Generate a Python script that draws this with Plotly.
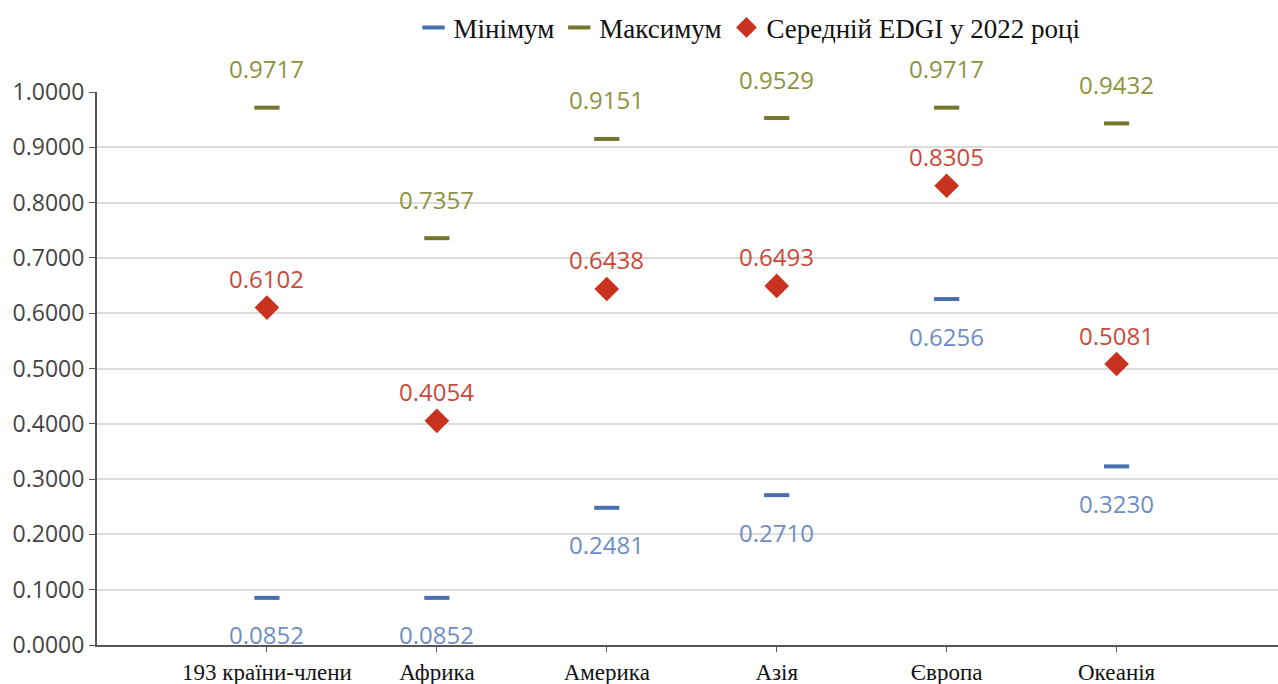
import plotly.graph_objects as go

categories = ["193 країни-члени", "Африка", "Америка", "Азія", "Європа", "Океанія"]
minimum = [0.0852, 0.0852, 0.2481, 0.2710, 0.6256, 0.3230]
maximum = [0.9717, 0.7357, 0.9151, 0.9529, 0.9717, 0.9432]
mean_2022 = [0.6102, 0.4054, 0.6438, 0.6493, 0.8305, 0.5081]
y_ticks = [0.0, 0.1, 0.2, 0.3, 0.4, 0.5, 0.6, 0.7, 0.8, 0.9, 1.0]

x_pos = list(range(len(categories)))
label_font = "Open Sans, Noto Sans, sans-serif"
serif_font = "Liberation Serif, Times New Roman, serif"

series = [
    # name, values, marker, label colour, vertical label offset (px)
    ("Мінімум", minimum,
     dict(symbol="line-ew", size=18, line=dict(width=4, color="#4a6fae")), "#6f8dc2", -37),
    ("Максимум", maximum,
     dict(symbol="line-ew", size=18, line=dict(width=4, color="#74762e")), "#8e9240", 39),
    ("Середній EDGI у 2022 році", mean_2022,
     dict(symbol="diamond", size=19, color="#c8321f"), "#c94a3a", 29),
]

fig = go.Figure()
annotations = []
for name, values, marker, text_color, shift in series:
    fig.add_trace(go.Scatter(
        x=x_pos, y=values, name=name, mode="markers",
        marker=marker, cliponaxis=False,
    ))
    for xi, v in zip(x_pos, values):
        annotations.append(dict(
            x=xi, y=v, xref="x", yref="y", text=f"{v:.4f}", showarrow=False,
            yshift=shift, font=dict(family=label_font, size=24, color=text_color),
        ))

fig.update_layout(
    width=1278, height=684,
    margin=dict(l=97, r=0, t=92, b=39, autoexpand=False),
    paper_bgcolor="white", plot_bgcolor="white",
    showlegend=True,
    annotations=annotations,
    legend=dict(
        orientation="h", x=0.268, xanchor="left", y=0.995, yanchor="top",
        yref="container", bgcolor="rgba(0,0,0,0)",
        font=dict(family=serif_font, size=27, color="#111"),
        itemwidth=30,
    ),
    xaxis=dict(
        range=[-1, 5.95], tickvals=x_pos, ticktext=categories, automargin=False,
        showgrid=False, zeroline=False,
        showline=True, linecolor="#555", linewidth=2,
        ticks="outside", ticklen=5, tickcolor="#555",
        tickfont=dict(family=serif_font, size=23, color="#111"),
    ),
    yaxis=dict(
        range=[0, 1.0], tickvals=y_ticks, ticktext=[f"{v:.4f}" for v in y_ticks],
        automargin=False,
        showgrid=True, gridcolor="#dcdcdc", gridwidth=2, zeroline=False,
        showline=True, linecolor="#555", linewidth=2,
        ticks="outside", ticklen=6, tickcolor="#555",
        tickfont=dict(family=label_font, size=23, color="#444"),
    ),
)

fig.write_html("out.html")
